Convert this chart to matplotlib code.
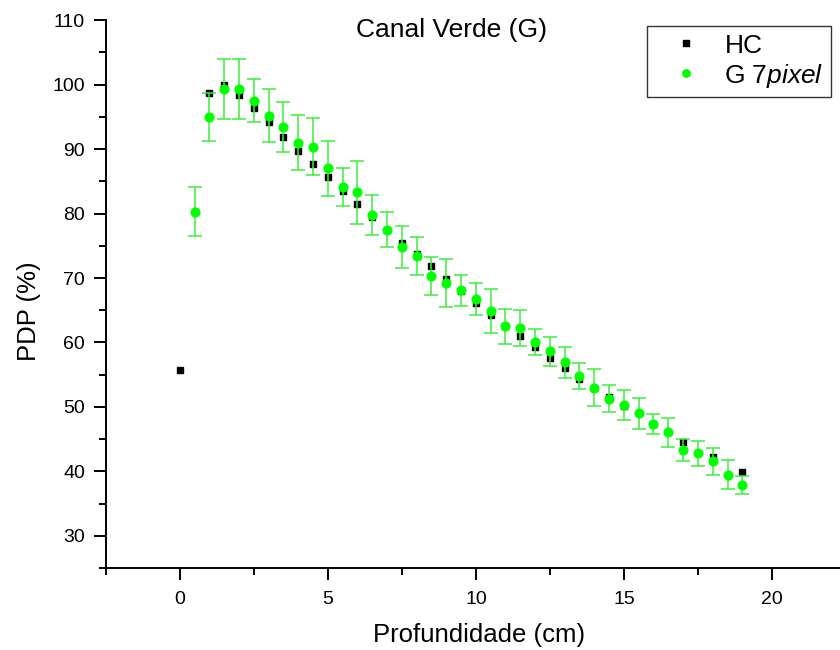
import numpy as np
import matplotlib
matplotlib.use('Agg')
from matplotlib import pyplot as plt
from matplotlib.ticker import MultipleLocator

plt.rcParams['font.family'] = ['Liberation Sans', 'DejaVu Sans']
plt.rcParams['mathtext.fontset'] = 'custom'
plt.rcParams['mathtext.it'] = 'Liberation Sans:italic'
plt.rcParams['mathtext.rm'] = 'Liberation Sans'

# HC reference curve
hc_x = [0, 1, 1.5, 2, 2.5, 3, 3.5, 4, 4.5, 5, 5.5, 6, 6.5, 7, 7.5, 8, 8.5,
        9, 9.5, 10, 10.5, 11, 11.5, 12, 12.5, 13, 13.5, 14, 14.5, 15,
        16, 17, 18, 19]
hc_y = [55.7, 98.7, 100.0, 98.4, 96.4, 94.2, 91.9, 89.7, 87.7, 85.6, 83.5,
        81.5, 79.4, 77.5, 75.5, 73.7, 71.8, 69.9, 68.0, 66.1, 64.2, 62.5,
        61.0, 59.3, 57.6, 56.1, 54.4, 53.0, 51.6, 50.2, 47.3, 44.6, 42.3,
        39.9]

# green channel, 7 pixel
g_x = [0.5, 1, 1.5, 2, 2.5, 3, 3.5, 4, 4.5, 5, 5.5, 6, 6.5, 7, 7.5, 8, 8.5,
       9, 9.5, 10, 10.5, 11, 11.5, 12, 12.5, 13, 13.5, 14, 14.5, 15, 15.5,
       16, 16.5, 17, 17.5, 18, 18.5, 19]
g_y = [80.3, 95.0, 99.3, 99.3, 97.5, 95.2, 93.4, 91.0, 90.4, 87.0, 84.1,
       83.3, 79.7, 77.5, 74.8, 73.4, 70.3, 69.2, 68.1, 66.7, 64.9, 62.5,
       62.2, 60.1, 58.6, 56.9, 54.8, 53.0, 51.3, 50.3, 49.0, 47.3, 46.1,
       43.3, 42.8, 41.6, 39.5, 37.9]
g_err = [3.8, 3.7, 4.6, 4.6, 3.35, 4.15, 3.85, 4.25, 4.45, 4.3, 3.0, 4.9,
         3.1, 2.7, 3.25, 2.9, 2.9, 3.75, 2.4, 2.5, 3.4, 2.7, 2.8, 2.0, 2.2,
         2.35, 1.95, 2.85, 2.1, 2.4, 2.4, 1.55, 2.25, 1.7, 1.9, 2.1, 2.2, 1.4]

fig = plt.figure(figsize=(8.4, 6.5), dpi=100)
ax = fig.add_axes([0.126, 0.126, 0.874, 0.843])

ax.plot(hc_x, hc_y, 's', color='black', markersize=5, label='HC', zorder=2)
ax.errorbar(g_x, g_y, yerr=g_err, fmt='none', ecolor='#3ded3d',
            elinewidth=1.1, capsize=5, capthick=1.1, zorder=3)
ax.plot(g_x, g_y, 'o', color='#00ff00', markersize=6.3,
        label='G 7$\\it{pixel}$', zorder=4)

ax.set_xlim(-2.5, 22.3)
ax.set_ylim(25, 110)
ax.xaxis.set_major_locator(MultipleLocator(5))
ax.xaxis.set_minor_locator(MultipleLocator(2.5))
ax.yaxis.set_major_locator(MultipleLocator(10))
ax.yaxis.set_minor_locator(MultipleLocator(5))
ax.spines['top'].set_visible(False)
ax.spines['right'].set_visible(False)
ax.spines['left'].set_linewidth(1.4)
ax.spines['bottom'].set_linewidth(1.4)
ax.tick_params(which='major', length=8.5, width=1.4, labelsize=14, direction='out')
ax.tick_params(which='minor', length=4.8, width=1.4, direction='out')
ax.tick_params(axis='x', pad=8)
ax.tick_params(axis='y', pad=6.5)

ax.set_xlabel('Profundidade (cm)', fontsize=18.5, labelpad=8)
ax.xaxis.set_label_coords(0.508, -0.1)
ax.set_ylabel('PDP (%)', fontsize=18.5)
ax.yaxis.set_label_coords(-0.088, 0.469)
ax.text(0.471, 0.969, 'Canal Verde (G)', transform=ax.transAxes,
        ha='center', va='baseline', fontsize=19)

leg = ax.legend(loc='upper right', bbox_to_anchor=(0.988, 0.989),
                borderaxespad=0, fontsize=19, fancybox=False,
                edgecolor='black', markerscale=0.85, handlelength=2.4,
                handletextpad=0.27, labelspacing=0.15, borderpad=0.28,
                numpoints=1)
leg.get_frame().set_linewidth(1.0)

plt.savefig('out.png', dpi=100)
